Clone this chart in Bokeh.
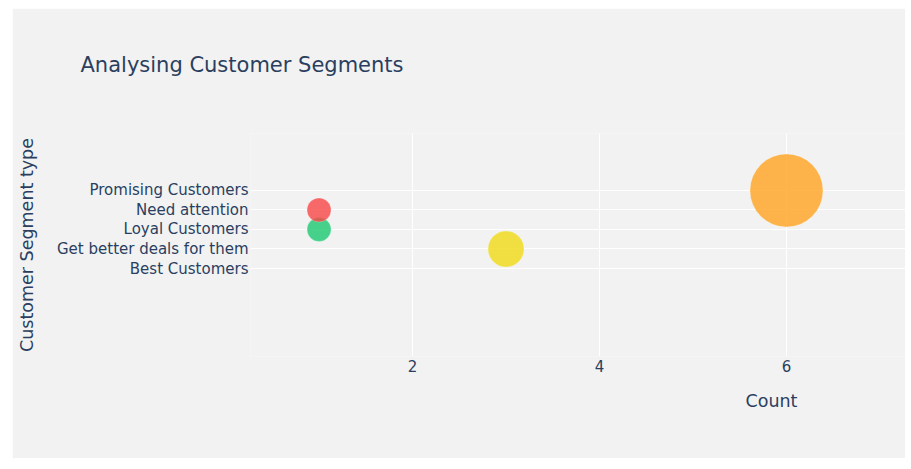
import numpy as np
from bokeh.plotting import figure
from bokeh.models import Range1d, FixedTicker, Title, ColumnDataSource
from bokeh.embed import file_html
from bokeh.resources import INLINE

# ---- data ----
segment_types = ["Best Customers", "Get better deals for them", "Loyal Customers",
                 "Need attention", "Promising Customers"]
bubble_segments = ["Promising Customers", "Get better deals for them", "Loyal Customers", "Need attention"]
bubble_counts = [6, 3, 1, 1]
bubble_values = [37, 9, 4, 4]          # value encoded by bubble area
x_ticks = [2, 4, 6]

# ---- styles ----
seg_colors = {"Need attention": "#f84545", "Loyal Customers": "#1ac871",
              "Get better deals for them": "#f0d914", "Promising Customers": "#ffa21e"}
FONT = "DejaVu Sans"
TXT = "#2a3f5f"
BG = "#f2f2f2"

ypos = [segment_types.index(s) for s in bubble_segments]
src = ColumnDataSource(dict(
    x=bubble_counts, y=ypos,
    size=[12 * np.sqrt(v) for v in bubble_values],
    color=[seg_colors[s] for s in bubble_segments]))

p = figure(width=893, height=450, output_backend="svg", toolbar_location=None,
           x_range=Range1d(0.267, 7.273), y_range=Range1d(-4.51, 6.92),
           margin=(8, 0, 0, 12),
           min_border_left=238, min_border_right=0, min_border_top=125, min_border_bottom=102)
p.background_fill_color = BG
p.border_fill_color = BG
p.outline_line_color = None

p.scatter("x", "y", source=src, size="size", fill_color="color", fill_alpha=0.8,
          line_color="white", line_alpha=0.5, line_width=0.5)

# axes
p.xaxis.ticker = FixedTicker(ticks=x_ticks)
p.yaxis.ticker = FixedTicker(ticks=list(range(len(segment_types))))
p.yaxis.major_label_overrides = {i: s for i, s in enumerate(segment_types)}
for ax in (p.xaxis[0], p.yaxis[0]):
    ax.axis_line_color = None
    ax.major_tick_line_color = None
    ax.minor_tick_line_color = None
    ax.major_tick_out = 0
    ax.major_tick_in = 0
    ax.minor_tick_out = 0
    ax.minor_tick_in = 0
    ax.major_label_text_font = FONT
    ax.major_label_text_font_size = "15px"
    ax.major_label_text_color = TXT
p.xaxis.major_label_standoff = 3
p.yaxis.major_label_standoff = 2
p.yaxis.axis_label = "Customer Segment type"
p.yaxis.axis_label_text_font = FONT
p.yaxis.axis_label_text_font_size = "17.5px"
p.yaxis.axis_label_text_font_style = "normal"
p.yaxis.axis_label_text_color = TXT
p.yaxis.axis_label_standoff = 17

p.xgrid.grid_line_color = "white"
p.ygrid.grid_line_color = "white"
p.xgrid.grid_line_width = 1
p.ygrid.grid_line_width = 1

# title (above) and x-axis title (below) as Title annotations
p.title.text = "Analysing Customer Segments\n"
p.title.align = "left"
p.title.offset = -170
p.title.standoff = 65
p.title.text_font = FONT
p.title.text_font_size = "21px"
p.title.text_font_style = "normal"
p.title.text_color = TXT

p.add_layout(Title(text="Count", align="left", offset=495, standoff=29,
                   text_font=FONT, text_font_size="17.5px", text_font_style="normal",
                   text_color=TXT), "below")

open("out.html", "w").write(file_html(p, INLINE))
